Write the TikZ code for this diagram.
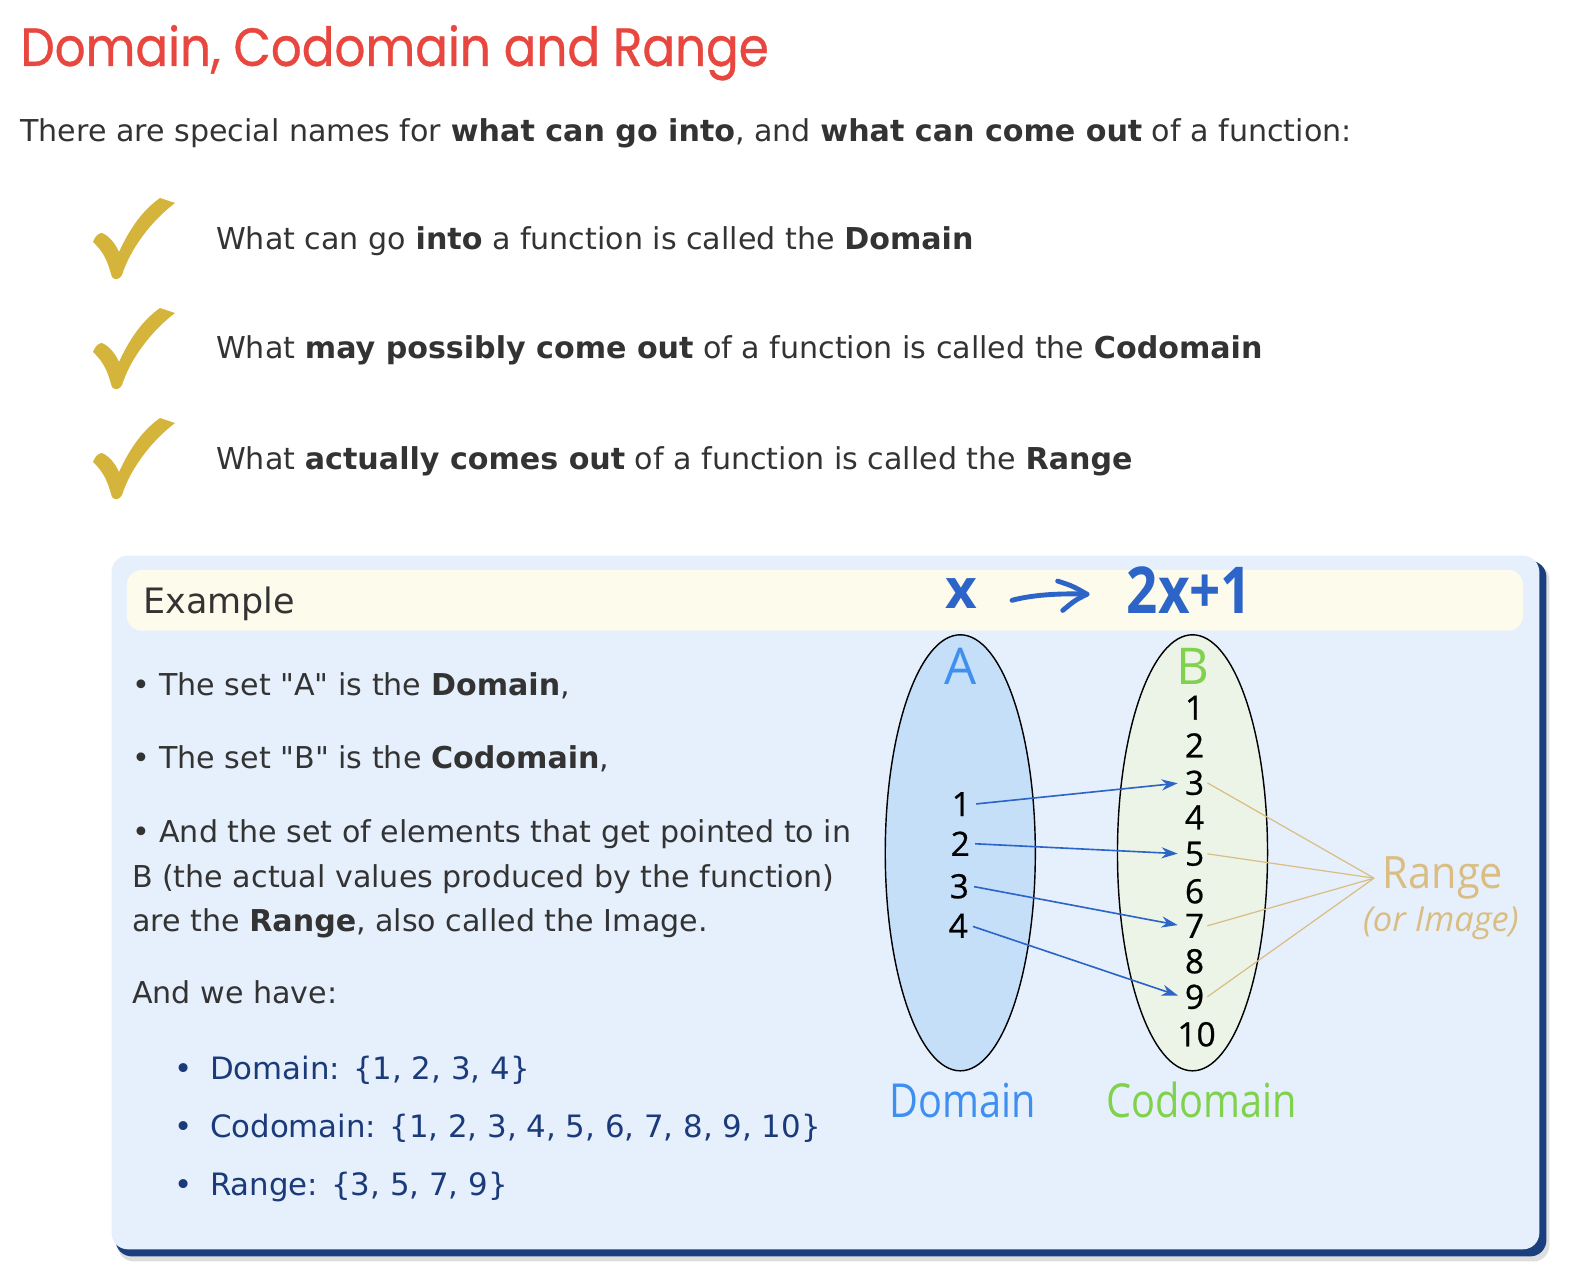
\documentclass[tikz,border=0pt]{standalone}
\usepackage{fontspec}
\usepackage{graphicx}
\setmainfont{DejaVu Sans}
\newfontfamily\qfont{DejaVu Sans}
\newfontfamily\titlefont{Poppins}[FakeBold=0.7]
\newfontfamily\handfont{Open Sans}
\newfontfamily\numfont{Open Sans}[FakeBold=0.7]
\usetikzlibrary{shapes.geometric,arrows.meta}
\definecolor{titlered}{HTML}{E8473F}
\definecolor{bodytxt}{HTML}{333333}
\definecolor{gold}{HTML}{D5B43C}
\definecolor{boxblue}{HTML}{E6F0FC}
\definecolor{cream}{HTML}{FDFBEC}
\definecolor{navy}{HTML}{1B3F7E}
\definecolor{listblue}{HTML}{1B3A7A}
\definecolor{penblue}{HTML}{2C64C8}
\definecolor{setA}{HTML}{C5DFF9}
\definecolor{setB}{HTML}{ECF4E8}
\definecolor{lblue}{HTML}{3F8FF0}
\definecolor{lgreen}{HTML}{80D14B}
\definecolor{rangetan}{HTML}{D9BD82}
\newcommand{\qq}{{\qfont"}}
\begin{document}
\begin{tikzpicture}[x=1pt,y=-1pt,
  body/.style={anchor=base west, inner sep=0pt, text=bodytxt, font=\fontsize{29.7}{34}\selectfont},
  listtxt/.style={anchor=base west, inner sep=0pt, text=listblue, font=\fontsize{30.4}{34}\selectfont},
  num/.style={inner sep=3pt, font=\numfont\fontsize{33}{33}\selectfont},
  setlabel/.style={inner sep=0pt, font=\handfont\fontsize{50}{50}\selectfont},
  biglabel/.style={inner sep=0pt, font=\handfont\fontsize{44}{44}\selectfont},
  pen/.style={inner sep=0pt, text=penblue, font=\handfont\bfseries\fontsize{54}{54}\selectfont},
  maparrow/.style={draw=penblue, line width=1.6pt, -{Stealth[length=16pt,width=11pt]}, shorten >=4pt, shorten <=2pt},
  rangeline/.style={draw=rangetan, line width=1.2pt},
  penstroke/.style={penblue, line width=4.8pt, line cap=round, line join=round},
  setshape/.style={ellipse, draw=black, line width=1.4pt, minimum width=148pt, minimum height=430pt, inner sep=0pt}
]
\useasboundingbox (0,0) rectangle (1568,1266);
\fill[white] (0,0) rectangle (1568,1266);

% title
\node[anchor=base west, inner sep=0pt, text=titlered, font=\titlefont\fontsize{53}{60}\selectfont] (title) at (20,65) {\scalebox{0.9}[1]{Domain, Codomain and Range}};

\node[body] (intro) at (20,140) {There are special names for \textbf{what can go into}, and \textbf{what can come out} of a function:};

% checkmarks
\foreach \k in {0,1,2}{
\begin{scope}[shift={(78.9,{177.5+108.5*\k})}, scale=0.986]
\fill[gold] (13,62) .. controls (15,56) and (19,53) .. (22,53) .. controls (29,56) and (35,63) .. (39,72) .. controls (50,48) and (63,30) .. (80,18) -- (95,23) .. controls (70,42) and (50,70) .. (42,95) .. controls (40,99) and (35,101) .. (32,97) .. controls (29,88) and (27,75) .. (13,62) -- cycle;
\end{scope}
}

\node[body] (c1) at (213,246) {What can go \textbf{into} a function is called the \textbf{Domain}};
\node[body] (c2) at (213,354) {What \textbf{may possibly come out} of a function is called the \textbf{Codomain}};
\node[body] (c3) at (213,463) {What \textbf{actually comes out} of a function is called the \textbf{Range}};

% example box with shadow
\fill[black!25, opacity=0.5, rounded corners=16pt] (116,556) rectangle (1528,1244);
\fill[navy, rounded corners=16pt] (114,553) rectangle (1525,1239);
\fill[boxblue, rounded corners=16pt] (110,548) rectangle (1518,1232);
\fill[cream, rounded corners=15pt] (125,562) rectangle (1502,622);
\node[anchor=base west, inner sep=0pt, text=bodytxt, font=\fontsize{34.5}{38}\selectfont] (example) at (141,605) {Example};

\node[body] (t1) at (130,686) {\textbullet\ The set \qq A\qq\ is the \textbf{Domain},};
\node[body] (t2) at (130,758) {\textbullet\ The set \qq B\qq\ is the \textbf{Codomain},};
\node[body] (t3) at (130,831) {\textbullet\ And the set of elements that get pointed to in};
\node[body] (t4) at (130,875) {B (the actual values produced by the function)};
\node[body] (t5) at (130,919) {are the \textbf{Range}, also called the Image.};
\node[body] (t6) at (130,990) {And we have:};

\node[listtxt] (l1) at (172,1065) {\textbullet};
\node[listtxt] (l1t) at (207,1065) {Domain: \{1, 2, 3, 4\}};
\node[listtxt] (l2) at (172,1122) {\textbullet};
\node[listtxt] (l2t) at (207,1122) {Codomain: \{1, 2, 3, 4, 5, 6, 7, 8, 9, 10\}};
\node[listtxt] (l3) at (172,1179) {\textbullet};
\node[listtxt] (l3t) at (207,1179) {Range: \{3, 5, 7, 9\}};

% mapping title
\node[pen] (fx) at (948,585) {x};
\node[pen] (fy) at (1173,582) {\scalebox{1}[1.18]{2x+1}};
\coordinate (ha) at (998,592);
\coordinate (hb) at (1072,586);
\draw[penstroke] (ha) .. controls (1020,586) and (1050,585) .. (hb);
\draw[penstroke] (1043,573) .. controls (1058,578) .. (hb) .. controls (1060,592) .. (1048,602);

% sets
\node[setshape, fill=setA] (A) at (947,841) {};
\node[setshape, fill=setB] (B) at (1176,841) {};
\node[setlabel, text=lblue] (Alab) at (947,657) {A};
\node[setlabel, text=lgreen] (Blab) at (1176,657) {B};

\node[num] (a1) at (948,793) {1};
\node[num] (a2) at (947,832) {2};
\node[num] (a3) at (946,874) {3};
\node[num] (a4) at (945,913) {4};

\node[num] (b1) at (1178,698) {1};
\node[num] (b2) at (1178,735) {2};
\node[num] (b3) at (1178,772) {3};
\node[num] (b4) at (1178,806) {4};
\node[num] (b5) at (1178,842) {5};
\node[num] (b6) at (1178,879) {6};
\node[num] (b7) at (1178,913) {7};
\node[num] (b8) at (1178,948) {8};
\node[num] (b9) at (1178,983) {9};
\node[num] (b10) at (1180,1020) {10};

\draw[maparrow] (a1.east) -- (b3.west);
\draw[maparrow] (a2.east) -- (b5.west);
\draw[maparrow] (a3.east) -- (b7.west);
\draw[maparrow] (a4.east) -- (b9.west);

\coordinate (rc) at (1355,866);
\draw[rangeline] (b3.east) -- (rc);
\draw[rangeline] (b5.east) -- (rc);
\draw[rangeline] (b7.east) -- (rc);
\draw[rangeline] (b9.east) -- (rc);

\node[biglabel, text=rangetan] (range) at (1423,866) {\scalebox{0.93}[1]{Range}};
\node[inner sep=0pt, text=rangetan, font=\handfont\itshape\fontsize{34}{34}\selectfont] (image) at (1421,911) {(or Image)};

\node[biglabel, text=lblue] (dom) at (949,1085) {\scalebox{0.89}[1.05]{Domain}};
\node[biglabel, text=lgreen] (cod) at (1185,1085) {\scalebox{0.89}[1.05]{Codomain}};
\end{tikzpicture}
\end{document}
